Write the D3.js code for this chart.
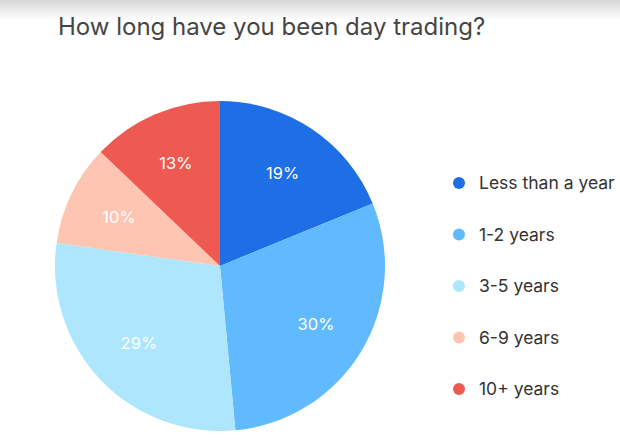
<!DOCTYPE html>
<html><head><meta charset="utf-8">
<script src="https://cdn.jsdelivr.net/npm/d3@7"></script>
<style>body{margin:0;background:#fff;}svg{display:block;}</style>
</head><body>
<script>
const categories = ["Less than a year","1-2 years","3-5 years","6-9 years","10+ years"];
const values = [19,30,29,10,13];
const colors = ["#1e6ee6","#62bafe","#aee6fe","#ffc5b3","#ee5a52"];
const title = "How long have you been day trading?";

const W=620,H=444;
const svg=d3.select("body").append("svg").attr("width",W).attr("height",H);
const defs=svg.append("defs");
const g0=defs.append("linearGradient").attr("id","topg").attr("x1",0).attr("x2",0).attr("y1",0).attr("y2",1);
g0.append("stop").attr("offset",0).attr("stop-color","#d6d6d6");
g0.append("stop").attr("offset",1).attr("stop-color","#ffffff");
svg.append("rect").attr("width",W).attr("height",20).attr("fill","url(#topg)");

svg.append("text").attr("x",58).attr("y",35).text(title)
  .attr("font-family","Inter, 'Open Sans', sans-serif").attr("font-size",24)
  .attr("fill","#454545");

const cx=220,cy=266,r=165;
const pie=d3.pie().sort(null).value(d=>d)(values);
const arc=d3.arc().innerRadius(0).outerRadius(r);
const labelArc=d3.arc().innerRadius(r*0.68).outerRadius(r*0.68);
const g=svg.append("g").attr("transform",`translate(${cx},${cy})`);
g.selectAll("path").data(pie).join("path").attr("d",arc).attr("fill",(d,i)=>colors[i]);
g.selectAll("text").data(pie).join("text")
  .attr("transform",d=>`translate(${labelArc.centroid(d)})`)
  .attr("text-anchor","middle").attr("dy","0.35em")
  .attr("font-family","Inter, 'Open Sans', sans-serif").attr("font-size",16.5)
  .attr("fill","#fff").text((d,i)=>values[i]+"%");

const ly=d3.scalePoint().domain(categories).range([183,389]);
const lg=svg.append("g");
lg.selectAll("circle").data(categories).join("circle")
  .attr("cx",459).attr("cy",d=>ly(d)).attr("r",6).attr("fill",(d,i)=>colors[i]);
lg.selectAll("text").data(categories).join("text")
  .attr("x",479).attr("y",d=>ly(d)).attr("dy","0.35em")
  .attr("font-family","Inter, 'Open Sans', sans-serif").attr("font-size",17.5)
  .attr("fill","#333").text(d=>d);
</script>
</body></html>
